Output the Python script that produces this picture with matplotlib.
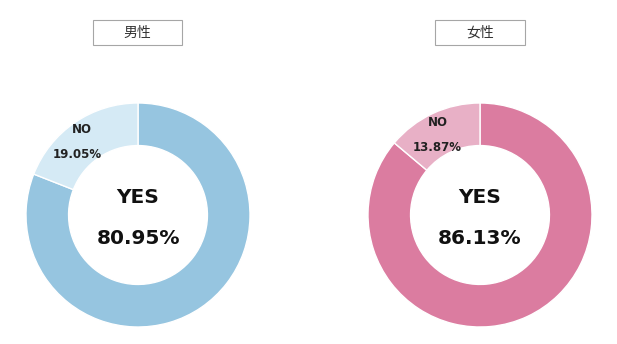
import matplotlib.pyplot as plt
from matplotlib.patches import Rectangle

plt.rcParams['font.family'] = ['DejaVu Sans', 'Noto Sans CJK JP']

titles = ['男性', '女性']
labels = ['YES', 'NO']
values = [[80.95, 19.05], [86.13, 13.87]]
colors = [['#96c5e0', '#d5eaf5'], ['#db7ca0', '#e8b0c6']]

W, H = 617, 344
fig = plt.figure(figsize=(W / 100, H / 100), dpi=100)

# pixel layout of each panel: donut centre x, title box x-range
centers_x = [138, 480]
boxes = [(93, 182), (435, 525)]
cy, r = 215, 112
no_label_pos = [(-0.50, 0.76, -0.54, 0.536), (-0.375, 0.83, -0.38, 0.607)]

for i in range(2):
    cx = centers_x[i]
    ax = fig.add_axes([(cx - r) / W, (H - cy - r) / H, 2 * r / W, 2 * r / H])
    ax.pie(values[i], colors=colors[i], startangle=90, counterclock=False,
           radius=1, wedgeprops={'width': 0.38, 'edgecolor': 'white', 'linewidth': 1})
    ax.set_xlim(-1, 1)
    ax.set_ylim(-1, 1)
    ax.set_aspect('equal')
    ax.axis('off')

    ax.text(0, 0.16, labels[0], ha='center', va='center', fontsize=14.5, fontweight='bold',
            color='#111111')
    ax.text(0, -0.21, f'{values[i][0]:.2f}%', ha='center', va='center',
            fontsize=14.5, fontweight='bold', color='#111111')
    nx, ny, px, py = no_label_pos[i]
    ax.text(nx, ny, labels[1], ha='center', va='center', fontsize=8.5, fontweight='bold',
            color='#222222')
    ax.text(px, py, f'{values[i][1]:.2f}%', ha='center', va='center',
            fontsize=8.5, fontweight='bold', color='#222222')

    x0, x1 = boxes[i]
    fig.patches.append(Rectangle((x0 / W, (H - 45) / H), (x1 - x0) / W, 25 / H,
                                 transform=fig.transFigure, facecolor='white',
                                 edgecolor='#a6a6a6', linewidth=0.8))
    fig.text((x0 + x1) / 2 / W, (H - 32.5) / H, titles[i], ha='center', va='center',
             fontsize=10, color='#333333', family=['Noto Sans CJK JP', 'DejaVu Sans'])

fig.savefig('out.png', dpi=100, facecolor='white')
